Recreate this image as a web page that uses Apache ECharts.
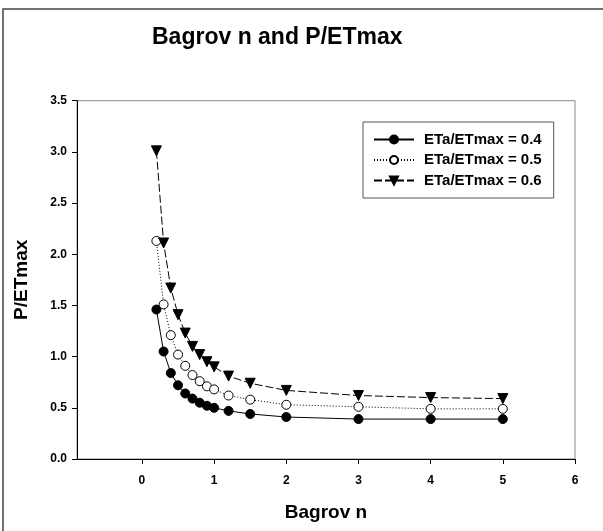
<!DOCTYPE html>
<html>
<head>
<meta charset="utf-8">
<script src="https://cdn.jsdelivr.net/npm/echarts@6/dist/echarts.min.js"></script>
<style>
  html, body { margin: 0; padding: 0; background: #fff; }
  #chart { width: 603px; height: 531px; }
</style>
</head>
<body>
<div id="chart"></div>
<script>
// Bagrov n values on the x axis
const bagrovN = [0.2, 0.3, 0.4, 0.5, 0.6, 0.7, 0.8, 0.9, 1.0, 1.2, 1.5, 2, 3, 4, 5];
// P/ETmax for each ETa/ETmax ratio
const ratio04 = [1.46, 1.05, 0.84, 0.72, 0.64, 0.59, 0.55, 0.52, 0.50, 0.47, 0.44, 0.41, 0.39, 0.39, 0.39];
const ratio05 = [2.13, 1.51, 1.21, 1.02, 0.91, 0.82, 0.76, 0.71, 0.68, 0.62, 0.58, 0.53, 0.51, 0.49, 0.49];
const ratio06 = [3.01, 2.11, 1.67, 1.41, 1.23, 1.10, 1.02, 0.95, 0.90, 0.81, 0.74, 0.67, 0.62, 0.60, 0.59];
const xTicks = [0, 1, 2, 3, 4, 5, 6];
const seriesNames = ['ETa/ETmax = 0.4', 'ETa/ETmax = 0.5', 'ETa/ETmax = 0.6'];

const font = "'Liberation Sans', Arial, sans-serif";

function pairs(ys) {
    return bagrovN.map((x, i) => [x, ys[i]]);
}

const chart = echarts.init(document.getElementById('chart'));

const option = {
    backgroundColor: '#fff',
    animation: false,
    title: {
        text: 'Bagrov n and P/ETmax',
        left: 152,
        top: 26,
        padding: 0,
        textStyle: { fontFamily: font, fontWeight: 'bold', fontSize: 23, color: '#000' }
    },
    graphic: [
        {
            type: 'rect',
            shape: { x: 3, y: 9, width: 800, height: 800 },
            style: { fill: 'none', stroke: '#444', lineWidth: 1.5 },
            silent: true
        }
    ],
    legend: {
        orient: 'vertical',
        left: 363,
        top: 122,
        padding: [10, 12, 10, 10],
        itemGap: 5.5,
        itemWidth: 40,
        itemHeight: 10,
        borderColor: '#555',
        borderWidth: 1,
        backgroundColor: '#fff',
        data: seriesNames,
        textStyle: { fontFamily: font, fontWeight: 'bold', fontSize: 15, color: '#000', padding: [0, 0, 0, 5] }
    },
    grid: {
        left: 77,
        top: 100.7,
        right: 28,
        bottom: 72,
        show: true,
        borderColor: '#888',
        borderWidth: 1,
        backgroundColor: 'transparent'
    },
    xAxis: {
        type: 'value',
        min: -0.9,
        max: 6,
        name: 'Bagrov n',
        nameLocation: 'middle',
        nameGap: 44,
        nameTextStyle: { fontFamily: font, fontWeight: 'bold', fontSize: 19, color: '#000' },
        axisLine: { show: true, onZero: false, lineStyle: { color: '#000', width: 1 } },
        axisTick: { show: true, length: 5, customValues: xTicks, lineStyle: { color: '#000' } },
        axisLabel: {
            customValues: xTicks,
            margin: 16,
            fontFamily: font, fontWeight: 'bold', fontSize: 12, color: '#000'
        },
        splitLine: { show: false }
    },
    yAxis: {
        type: 'value',
        min: 0,
        max: 3.5,
        interval: 0.5,
        name: 'P/ETmax',
        nameLocation: 'middle',
        nameGap: 46,
        nameTextStyle: { fontFamily: font, fontWeight: 'bold', fontSize: 19, color: '#000' },
        axisLine: { show: true, onZero: false, lineStyle: { color: '#000', width: 1 } },
        axisTick: { show: true, length: 5, lineStyle: { color: '#000' } },
        axisLabel: {
            margin: 10,
            formatter: v => v.toFixed(1),
            fontFamily: font, fontWeight: 'bold', fontSize: 12, color: '#000'
        },
        splitLine: { show: false }
    },
    series: [
        {
            name: seriesNames[0],
            type: 'line',
            data: pairs(ratio04),
            symbol: 'circle',
            symbolSize: 9,
            lineStyle: { color: '#000', width: 1, type: 'solid' },
            itemStyle: { color: '#000', borderColor: '#000', borderWidth: 1 }
        },
        {
            name: seriesNames[1],
            type: 'line',
            data: pairs(ratio05),
            symbol: 'circle',
            symbolSize: 9,
            lineStyle: { color: '#000', width: 1, type: [1, 2] },
            itemStyle: { color: '#fff', borderColor: '#000', borderWidth: 1 }
        },
        {
            name: seriesNames[2],
            type: 'line',
            data: pairs(ratio06),
            symbol: 'triangle',
            symbolRotate: 180,
            symbolSize: 10,
            lineStyle: { color: '#000', width: 1, type: [8, 3] },
            itemStyle: { color: '#000', borderColor: '#000', borderWidth: 1 }
        }
    ]
};

chart.setOption(option);
</script>
</body>
</html>
